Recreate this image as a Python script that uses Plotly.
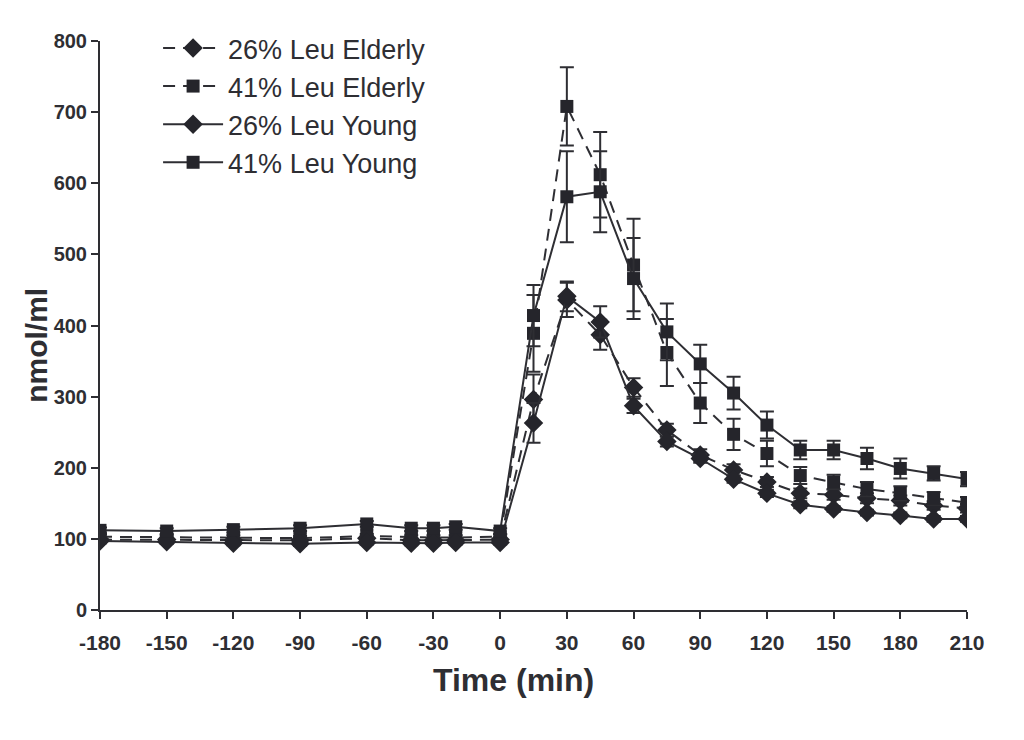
import plotly.graph_objects as go

# Time points (min)
time = [-180, -150, -120, -90, -60, -40, -30, -20, 0,
        15, 30, 45, 60, 75, 90, 105, 120, 135, 150, 165, 180, 195, 210]

# Series values (nmol/ml)
leu26_elderly = [99, 99, 98, 98, 101, 98, 98, 98, 99,
                 296, 436, 387, 313, 253, 218, 197, 180, 164, 162, 157, 154, 147, 143]
leu26_elderly_err = [3, 3, 3, 3, 3, 3, 3, 3, 3,
                     35, 24, 21, 13, 9, 8, 8, 7, 7, 7, 7, 7, 6, 6]

leu41_elderly = [103, 102, 102, 101, 104, 102, 102, 102, 103,
                 389, 708, 612, 485, 362, 291, 247, 220, 189, 180, 170, 164, 157, 151]
leu41_elderly_err = [3, 3, 3, 3, 3, 3, 3, 3, 3,
                     54, 55, 60, 65, 47, 28, 22, 18, 12, 10, 10, 10, 9, 8]

leu26_young = [97, 96, 94, 93, 95, 94, 94, 95, 95,
               263, 441, 405, 287, 237, 213, 184, 164, 148, 142, 137, 133, 128, 128]
leu26_young_err = [3, 3, 3, 3, 3, 3, 3, 3, 3,
                   28, 21, 22, 10, 7, 6, 5, 5, 5, 4, 4, 4, 4, 4]

leu41_young = [112, 111, 113, 115, 121, 115, 115, 117, 111,
               414, 581, 588, 466, 391, 346, 305, 260, 225, 225, 213, 199, 192, 184]
leu41_young_err = [4, 4, 4, 4, 4, 4, 4, 4, 4,
                   43, 64, 57, 57, 40, 27, 23, 19, 13, 13, 15, 14, 10, 10]

x_ticks = [-180, -150, -120, -90, -60, -30, 0, 30, 60, 90, 120, 150, 180, 210]
y_ticks = [0, 100, 200, 300, 400, 500, 600, 700, 800]

LINE = "#2e2e33"
MARK = "#25252b"
FONT = "Liberation Sans, Arial, sans-serif"

series = [
    ("26% Leu Elderly", leu26_elderly, leu26_elderly_err, "diamond", "12px,8px"),
    ("41% Leu Elderly", leu41_elderly, leu41_elderly_err, "square", "12px,8px"),
    ("26% Leu Young", leu26_young, leu26_young_err, "diamond", "solid"),
    ("41% Leu Young", leu41_young, leu41_young_err, "square", "solid"),
]

fig = go.Figure()
for name, vals, errs, sym, dash in series:
    fig.add_trace(go.Scatter(
        x=time, y=vals, name=name, mode="lines+markers",
        line=dict(color=LINE, width=2, dash=dash),
        marker=dict(symbol=sym, size=15 if sym == "diamond" else 13, color=MARK),
        error_y=dict(type="data", array=errs, visible=True,
                     color=LINE, thickness=2, width=7),
    ))

axis_common = dict(
    showline=True, linecolor=LINE, linewidth=2,
    ticks="outside", tickcolor=LINE, ticklen=7, tickwidth=2,
    showgrid=False, zeroline=False,
)

fig.update_layout(
    width=1024, height=740,
    margin=dict(l=92, r=65, t=33, b=138),
    plot_bgcolor="white", paper_bgcolor="white",
    showlegend=True,
    legend=dict(
        x=0.067, y=1.03, xanchor="left", yanchor="top",
        font=dict(family=FONT, size=27, color="#2e2e33"),
        bgcolor="rgba(0,0,0,0)", itemwidth=60, tracegroupgap=0,
    ),
    xaxis=dict(
        range=[-180, 210], tickvals=x_ticks, ticktext=[str(v) for v in x_ticks],
        tickfont=dict(family=FONT, size=21, color="#2e2e33", weight="bold"),
        ticklabelstandoff=6,
        **axis_common,
    ),
    yaxis=dict(
        range=[0, 800], tickvals=y_ticks,
        tickfont=dict(family=FONT, size=20, color="#2e2e33", weight="bold"),
        **axis_common,
    ),
    annotations=[
        dict(text="<b>Time (min)</b>", xref="paper", yref="paper",
             x=0.4775, y=-0.123, xanchor="center", yanchor="middle", showarrow=False,
             font=dict(family=FONT, size=32, color="#2e2e33")),
        dict(text="<b>nmol/ml</b>", xref="paper", yref="paper", textangle=-90,
             x=-0.0727, y=0.466, xanchor="center", yanchor="middle", showarrow=False,
             font=dict(family=FONT, size=30, color="#2e2e33")),
    ],
)

fig.write_html("out.html")
